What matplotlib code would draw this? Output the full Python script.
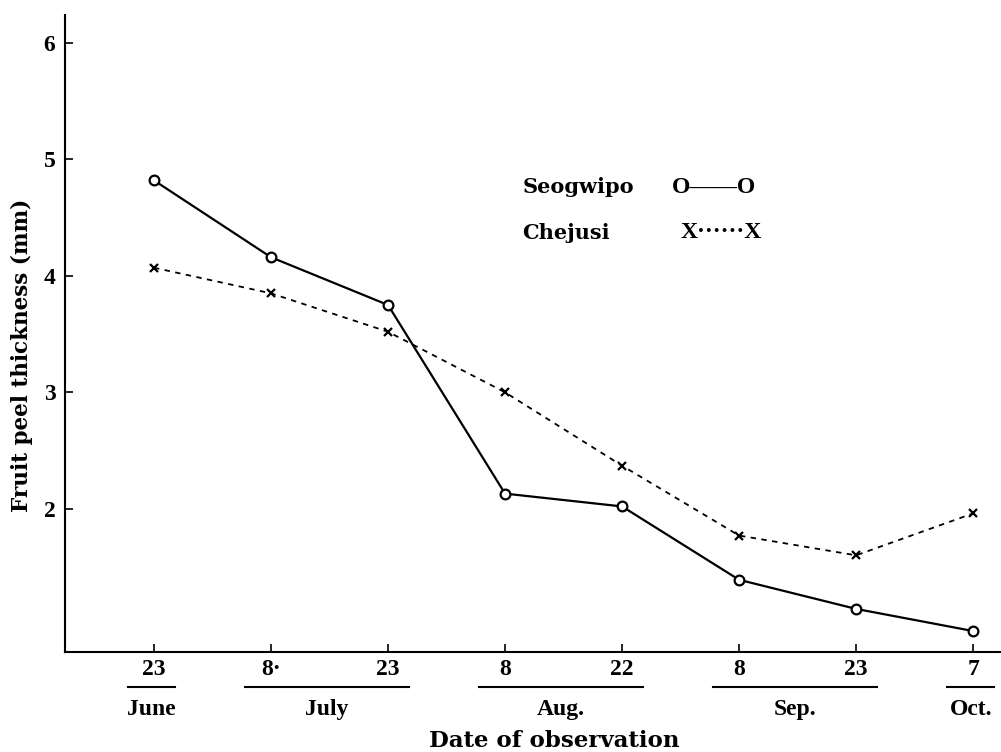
import numpy as np
import matplotlib
matplotlib.use("Agg")
import matplotlib.pyplot as plt
from matplotlib.transforms import blended_transform_factory

# observation dates (tick labels) and the month each one belongs to
day_labels = ["23", "8·", "23", "8", "22", "8", "23", "7"]
day_month = [0, 1, 1, 2, 2, 3, 3, 4]
month_names = ["June", "July", "Aug.", "Sep.", "Oct."]

# fruit peel thickness (mm)
seogwipo = [4.82, 4.16, 3.75, 2.13, 2.02, 1.39, 1.14, 0.95]
chejusi = [4.07, 3.85, 3.52, 3.00, 2.37, 1.77, 1.60, 1.96]

y_ticks = [2, 3, 4, 5, 6]

SERIF = "Liberation Serif"
WIDE = "DejaVu Serif"
plt.rcParams["font.family"] = SERIF
plt.rcParams["font.weight"] = "bold"

fig = plt.figure(figsize=(10.01, 7.52), dpi=100)
ax = fig.add_axes([0.065, 0.133, 0.934, 0.847])

x = np.arange(len(day_labels))
ax.plot(x, seogwipo, color="black", lw=1.6, marker="o", ms=7,
        mfc="white", mec="black", mew=1.6)
ax.plot(x, chejusi, color="black", lw=1.3, linestyle=(0, (3, 3)),
        marker="x", ms=6, mew=1.6)

ax.set_xlim(-0.76, 7.23)
ax.set_ylim(0.77, 6.24)
ax.set_xticks(x)
ax.set_xticklabels(day_labels, fontsize=17, fontweight="bold")
ax.set_yticks(y_ticks)
ax.set_yticklabels([str(t) for t in y_ticks], fontsize=17, fontweight="bold")
ax.tick_params(direction="in", length=6, width=1.2, color="black")
ax.tick_params(axis="x", pad=5)
ax.tick_params(axis="y", pad=7)
for s in ("top", "right"):
    ax.spines[s].set_visible(False)
for s in ("left", "bottom"):
    ax.spines[s].set_linewidth(1.5)

ax.set_ylabel("Fruit peel thickness (mm)", fontsize=15.5, fontweight="bold",
              family=WIDE)
ax.yaxis.set_label_coords(-0.034, 0.465)
ax.set_xlabel("Date of observation", fontsize=16.5, fontweight="bold",
              family=WIDE)
ax.xaxis.set_label_coords(0.523, -0.122)

# month brackets beneath the day labels
trans = blended_transform_factory(ax.transData, ax.transAxes)
for m, name in enumerate(month_names):
    idx = [i for i, mm in enumerate(day_month) if mm == m]
    start, end = idx[0] - 0.22, idx[-1] + 0.18
    ax.plot([start, end], [-0.055, -0.055], color="black", lw=1.5,
            transform=trans, clip_on=False)
    ax.text((start + end) / 2, -0.091, name, transform=trans,
            ha="center", va="center", fontsize=17, fontweight="bold")

# key written as text, as in the original
ax.text(0.489, 0.730, "Seogwipo", transform=ax.transAxes, fontsize=15,
        fontweight="bold", family=WIDE, va="center")
ax.text(0.649, 0.730, "O——O", transform=ax.transAxes, fontsize=17,
        fontweight="bold", va="center")
ax.text(0.489, 0.658, "Chejusi", transform=ax.transAxes, fontsize=15,
        fontweight="bold", family=WIDE, va="center")
ax.text(0.658, 0.658, "X······X", transform=ax.transAxes, fontsize=17,
        fontweight="bold", va="center")

fig.savefig("out.png", dpi=100)
